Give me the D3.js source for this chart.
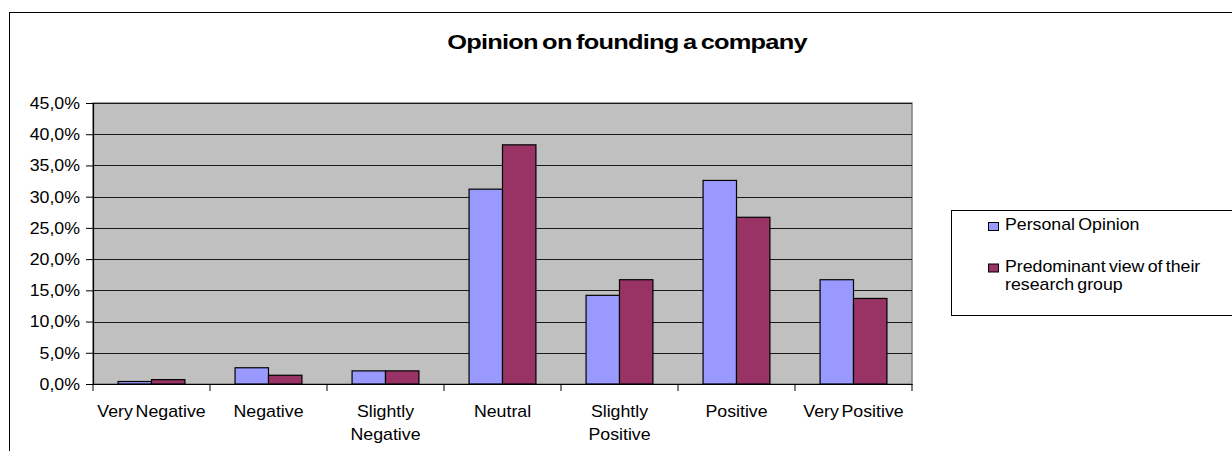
<!DOCTYPE html>
<html>
<head>
<meta charset="utf-8">
<script src="https://cdn.jsdelivr.net/npm/d3@7"></script>
<style>
  html, body { margin: 0; padding: 0; background: #fff; }
  svg { display: block; font-family: "Liberation Sans", Arial, sans-serif; }
</style>
</head>
<body>
<svg id="chart" width="1232" height="451"></svg>
<script>
const categories = ["Very Negative", "Negative", "Slightly Negative", "Neutral", "Slightly Positive", "Positive", "Very Positive"];
const categoryLines = [["Very Negative"], ["Negative"], ["Slightly", "Negative"], ["Neutral"], ["Slightly", "Positive"], ["Positive"], ["Very Positive"]];
const seriesNames = ["Personal Opinion", "Predominant view of their research group"];
const legendLines = [["Personal Opinion"], ["Predominant view of their", "research group"]];
const personalOpinion = [0.004, 0.026, 0.021, 0.312, 0.142, 0.326, 0.167];
const researchGroupView = [0.007, 0.014, 0.021, 0.383, 0.167, 0.267, 0.137];
const yTicks = [0, 0.05, 0.10, 0.15, 0.20, 0.25, 0.30, 0.35, 0.40, 0.45];
const yTickLabels = ["0,0%", "5,0%", "10,0%", "15,0%", "20,0%", "25,0%", "30,0%", "35,0%", "40,0%", "45,0%"];
const title = "Opinion on founding a company";
const colors = ["#9999FF", "#993366"];

const SX = 1.11;
const svg = d3.select("#chart");
const plot = {left: 93, right: 912, top: 103, bottom: 384};

function stretch(sel) {
  sel.each(function() {
    const t = d3.select(this);
    const x = +(t.attr("x") || 0), y = +(t.attr("y") || 0);
    t.attr("x", 0).attr("y", 0).attr("transform", `translate(${x},${y}) scale(${SX},1)`);
  });
}

// outer chart border
svg.append("rect").attr("x", 9.5).attr("y", 12.5).attr("width", 1240).attr("height", 450)
  .attr("fill", "#fff").attr("stroke", "#000").attr("stroke-width", 1);

// title
svg.append("text").attr("x", 0).attr("y", 0).attr("text-anchor", "middle")
  .attr("transform", "translate(627,49) scale(1.27,1)")
  .attr("font-size", 20).attr("font-weight", "bold").attr("fill", "#000")
  .attr("letter-spacing", -0.6).attr("word-spacing", -1.5)
  .text(title);

const x0 = d3.scaleBand().domain(categories).range([plot.left, plot.right]).paddingInner(0).paddingOuter(0);
const x1 = d3.scaleBand().domain(seriesNames).range([0, x0.bandwidth()]).paddingInner(0).paddingOuter(0.75);
const y = d3.scaleLinear().domain([0, 0.45]).range([plot.bottom, plot.top]);

// plot background
svg.append("rect").attr("x", plot.left).attr("y", plot.top)
  .attr("width", plot.right - plot.left).attr("height", plot.bottom - plot.top)
  .attr("fill", "#C0C0C0").attr("stroke", "#808080").attr("stroke-width", 1.5);

// gridlines
svg.append("g").selectAll("line").data(yTicks.slice(1)).join("line")
  .attr("x1", plot.left).attr("x2", plot.right)
  .attr("y1", d => Math.round(y(d)) + 0.5).attr("y2", d => Math.round(y(d)) + 0.5)
  .attr("stroke", "#1a1a1a").attr("stroke-width", 1);

// bars
const series = [personalOpinion, researchGroupView];
const groups = svg.append("g").selectAll("g").data(categories).join("g")
  .attr("transform", d => `translate(${x0(d)},0)`);
groups.selectAll("rect").data((d, i) => seriesNames.map((s, k) => ({s, v: series[k][i], k})))
  .join("rect")
  .attr("x", d => x1(d.s)).attr("width", x1.bandwidth())
  .attr("y", d => y(d.v)).attr("height", d => y(0) - y(d.v))
  .attr("fill", d => colors[d.k]).attr("stroke", "#000").attr("stroke-width", 1.2);

// y axis
const yAxis = svg.append("g").attr("transform", `translate(${plot.left},0)`)
  .call(d3.axisLeft(y).tickValues(yTicks).tickFormat((d, i) => yTickLabels[i]).tickSize(7).tickPadding(6));
yAxis.select(".domain").attr("stroke", "#000").attr("stroke-width", 1.2);
yAxis.selectAll(".tick line").attr("stroke", "#000");
yAxis.selectAll(".tick text").attr("font-size", 16).attr("font-family", "Liberation Sans, Arial, sans-serif").attr("fill", "#000");
yAxis.selectAll(".tick text").each(function() {
  const t = d3.select(this);
  const x = +t.attr("x");
  t.attr("x", 0).attr("dy", "0.34em").attr("transform", `translate(${x},0) scale(${SX},1)`);
});

// x axis
const boundaries = categories.map(c => x0(c)).concat([plot.right]);
const xAxis = svg.append("g").attr("transform", `translate(0,${plot.bottom})`)
  .call(d3.axisBottom(x0).tickSize(0).tickFormat(""));
xAxis.select(".domain").attr("stroke", "#000").attr("stroke-width", 1.2);
xAxis.selectAll(".boundary").data(boundaries).join("line").attr("class", "boundary")
  .attr("x1", d => d).attr("x2", d => d).attr("y1", 0).attr("y2", 7)
  .attr("stroke", "#000");

// x labels
const xl = svg.append("g").selectAll("text").data(categories).join("text")
  .attr("x", d => x0(d) + x0.bandwidth() / 2).attr("y", 417)
  .attr("text-anchor", "middle").attr("font-size", 16).attr("fill", "#000")
  .attr("word-spacing", -2);
xl.selectAll("tspan").data((d, i) => categoryLines[i]).join("tspan")
  .attr("x", 0).attr("dy", (d, i) => i === 0 ? 0 : 23).text(d => d);
stretch(xl);

// legend
svg.append("rect").attr("x", 951.5).attr("y", 210.5).attr("width", 300).attr("height", 105)
  .attr("fill", "#fff").attr("stroke", "#000").attr("stroke-width", 1);
const legendY = [230, 271.5];
const lg = svg.append("g").selectAll("g").data(seriesNames).join("g");
lg.append("rect").attr("x", 988.5).attr("y", (d, i) => legendY[i] - 7.5)
  .attr("width", 10).attr("height", 8).attr("fill", (d, i) => colors[i]).attr("stroke", "#000");
const lt = lg.append("text").attr("x", 1005).attr("y", (d, i) => legendY[i])
  .attr("font-size", 16).attr("fill", "#000").attr("word-spacing", -1.5);
lt.selectAll("tspan").data((d, i) => legendLines[i]).join("tspan")
  .attr("x", 0).attr("dy", (d, i) => i === 0 ? 0 : 18.5).text(d => d);
stretch(lt);
</script>
</body>
</html>
